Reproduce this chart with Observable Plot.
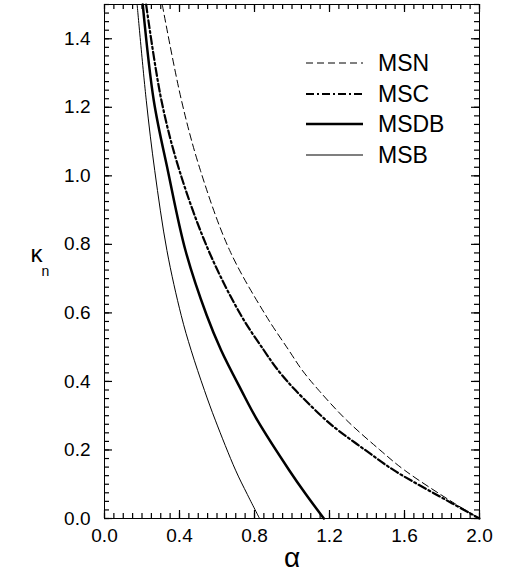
<!DOCTYPE html>
<html>
<head>
<meta charset="utf-8">
<script src="https://cdn.jsdelivr.net/npm/d3@7"></script>
<script src="https://cdn.jsdelivr.net/npm/@observablehq/plot@0.6"></script>
<style>
  html, body { margin: 0; padding: 0; background: #fff; }
  #chart { width: 505px; height: 578px; }
</style>
</head>
<body>
<div id="chart"></div>
<script>
// ---- data ----
const msnAlpha  = [0.308, 0.411, 0.512, 0.668, 0.860, 0.983, 1.054, 1.143, 1.291, 1.469, 1.600, 1.867, 2.0];
const msnKappa  = [1.5,   1.219, 1.015, 0.782, 0.593, 0.491, 0.433, 0.374, 0.287, 0.200, 0.141, 0.044, 0.0];
const mscAlpha  = [0.222, 0.304, 0.400, 0.555, 0.728, 0.850, 0.925, 1.019, 1.181, 1.245, 1.390, 1.543, 1.855, 2.0];
const mscKappa  = [1.5,   1.219, 1.015, 0.782, 0.593, 0.491, 0.433, 0.374, 0.287, 0.258, 0.200, 0.141, 0.044, 0.0];
const msdbAlpha = [0.204, 0.263, 0.338, 0.432, 0.545, 0.622, 0.730, 0.815, 0.985, 1.075, 1.170];
const msdbKappa = [1.5,   1.219, 1.015, 0.782, 0.593, 0.491, 0.374, 0.287, 0.141, 0.070, 0.0];
const msbAlpha  = [0.174, 0.223, 0.268, 0.333, 0.409, 0.462, 0.533, 0.591, 0.699, 0.762, 0.827];
const msbKappa  = [1.5,   1.219, 1.015, 0.782, 0.593, 0.491, 0.374, 0.287, 0.141, 0.070, 0.0];

const xTickLabels = [0.0, 0.4, 0.8, 1.2, 1.6, 2.0];
const yTickLabels = [0.0, 0.2, 0.4, 0.6, 0.8, 1.0, 1.2, 1.4];
const xMinorTicks = d3.range(0, 41).map(i => i * 0.05);
const yMinorTicks = d3.range(0, 61).map(i => i * 0.025);
const yMajorTicks = d3.range(0, 8).map(i => i * 0.2);

const seriesNames = ["MSN", "MSC", "MSDB", "MSB"];

// ---- build tables ----
const mk = (name, a, k) => a.map((v, i) => ({series: name, alpha: v, kappa: k[i]}));
const msn = mk("MSN", msnAlpha, msnKappa);
const msc = mk("MSC", mscAlpha, mscKappa);
const msdb = mk("MSDB", msdbAlpha, msdbKappa);
const msb = mk("MSB", msbAlpha, msbKappa);

const W = 505, H = 578;
const mL = 104, mR = 26, mT = 4, mB = 60;
const PW = W - mL - mR, PH = H - mT - mB;
const xDom = [0, 2], yDom = [0, 1.5];
const minorLen = 5, majorLen = 8;
const font = "'Liberation Sans', Arial, Helvetica, sans-serif";
const tickColor = "#000";

// inward ticks drawn as tick marks inset from the frame edges
const tickMarks = [];
for (const [vals, len] of [[xMinorTicks, minorLen], [xTickLabels, majorLen]]) {
  tickMarks.push(Plot.tickX(vals, {x: d => d, insetTop: PH - len, stroke: tickColor, strokeWidth: 1.2}));
  tickMarks.push(Plot.tickX(vals, {x: d => d, insetBottom: PH - len, stroke: tickColor, strokeWidth: 1.2}));
}
for (const [vals, len] of [[yMinorTicks, minorLen], [yMajorTicks, majorLen]]) {
  tickMarks.push(Plot.tickY(vals, {y: d => d, insetRight: PW - len, stroke: tickColor, strokeWidth: 1.2}));
  tickMarks.push(Plot.tickY(vals, {y: d => d, insetLeft: PW - len, stroke: tickColor, strokeWidth: 1.2}));
}

const chart = Plot.plot({
  width: W, height: H,
  marginLeft: mL, marginRight: mR, marginTop: mT, marginBottom: mB,
  style: {fontFamily: font, fontSize: "19px", color: "#000", background: "#fff"},
  x: {domain: xDom},
  y: {domain: yDom},
  marks: [
    ...tickMarks,
    // tick labels
    Plot.axisX({ticks: xTickLabels, tickSize: 0, tickPadding: 10, tickFormat: d3.format(".1f"), fontSize: 19, label: null}),
    Plot.axisY({ticks: yTickLabels, tickSize: 0, tickPadding: 14, tickFormat: d3.format(".1f"), fontSize: 19, label: null}),
    // curves
    Plot.line(msn, {x: "alpha", y: "kappa", curve: "catmull-rom", stroke: "#000", strokeWidth: 1, strokeDasharray: "7,4"}),
    Plot.line(msc, {x: "alpha", y: "kappa", curve: "catmull-rom", stroke: "#000", strokeWidth: 2.2, strokeDasharray: "8,3,2,3"}),
    Plot.line(msdb, {x: "alpha", y: "kappa", curve: "catmull-rom", stroke: "#000", strokeWidth: 2.5}),
    Plot.line(msb, {x: "alpha", y: "kappa", curve: "catmull-rom", stroke: "#000", strokeWidth: 1}),
    Plot.frame({stroke: "#000", strokeWidth: 1}),
    // axis titles
    Plot.text(["α"], {frameAnchor: "bottom", dy: 48, fontSize: 28, fill: "#000", fontFamily: font}),
    Plot.text(["κ"], {frameAnchor: "left", dx: -74, dy: -7, fontSize: 24, fill: "#000", fontFamily: font}),
    Plot.text(["n"], {frameAnchor: "left", dx: -63, dy: 10, fontSize: 14, fill: "#000", fontFamily: font, textAnchor: "start"})
  ]
});

document.getElementById("chart").appendChild(chart);

// legend inside the plot area (top-right)
const svg = d3.select(chart);
const legendStyles = [
  {dash: "7,4", width: 1},
  {dash: "8,3,2,3", width: 2.2},
  {dash: null, width: 2.6},
  {dash: null, width: 1.2}
];
const rowY = [63, 94, 124, 155];
const lg = svg.append("g").attr("font-family", font).attr("font-size", 23).attr("text-anchor", "start");
seriesNames.forEach((name, i) => {
  const ln = lg.append("line")
    .attr("x1", 306).attr("x2", 363)
    .attr("y1", rowY[i]).attr("y2", rowY[i])
    .attr("stroke", "#000").attr("stroke-width", legendStyles[i].width);
  if (legendStyles[i].dash) ln.attr("stroke-dasharray", legendStyles[i].dash);
  lg.append("text").attr("x", 378).attr("y", rowY[i]).attr("dy", "0.36em")
    .attr("text-anchor", "start").attr("fill", "#000").text(name);
});
</script>
</body>
</html>
